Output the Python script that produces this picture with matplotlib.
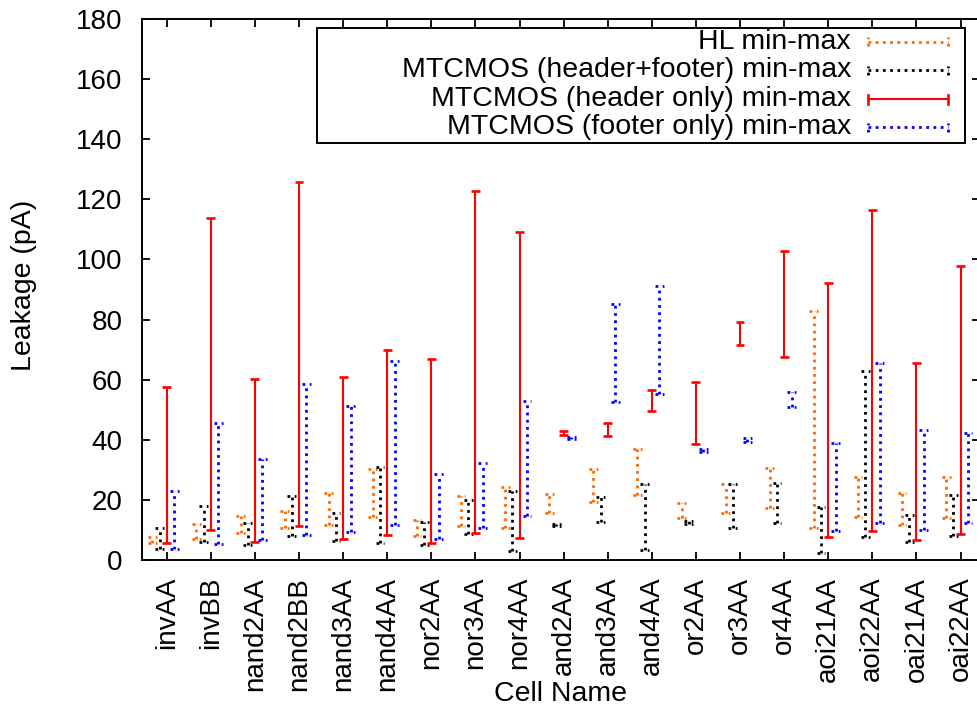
import matplotlib
matplotlib.use("Agg")
import matplotlib.pyplot as plt
import numpy as np

plt.rcParams["font.family"] = ["Liberation Sans", "DejaVu Sans"]

cells = ["invAA", "invBB", "nand2AA", "nand2BB", "nand3AA", "nand4AA",
         "nor2AA", "nor3AA", "nor4AA", "and2AA", "and3AA", "and4AA",
         "or2AA", "or3AA", "or4AA", "aoi21AA", "aoi22AA", "oai21AA", "oai22AA"]

# leakage ranges in pA (min / max)
hl_min = [5.5, 7.1, 9.1, 10.6, 11.5, 14.4, 8.0, 11.3, 10.5, 15.5, 19.4, 21.6,
          13.9, 15.8, 17.2, 10.5, 14.4, 11.6, 13.9]
hl_max = [7.8, 12.1, 14.6, 16.4, 22.4, 30.2, 13.3, 21.3, 24.4, 21.8, 30.2, 36.9,
          18.9, 25.2, 30.5, 82.9, 27.7, 22.2, 27.7]
hf_min = [3.6, 5.9, 5.1, 8.0, 6.2, 5.5, 5.1, 8.6, 3.0, 11.2, 12.8, 3.3,
          12.0, 10.5, 12.4, 2.4, 7.8, 6.1, 8.0]
hf_max = [10.7, 18.0, 12.4, 21.3, 15.5, 30.8, 12.5, 20.0, 23.0, 11.9, 20.9, 25.3,
          12.9, 25.3, 25.7, 17.7, 63.0, 15.0, 21.6]
hdr_min = [5.5, 10.0, 6.1, 11.4, 7.0, 8.3, 5.5, 8.9, 7.2, 41.5, 41.4, 49.7,
           38.5, 71.5, 67.4, 7.5, 9.6, 6.7, 8.6]
hdr_max = [57.5, 113.7, 60.2, 125.7, 61.0, 70.0, 66.8, 122.9, 109.1, 42.9, 45.5, 56.6,
           59.3, 79.3, 102.8, 92.3, 116.4, 65.7, 97.9]
ftr_min = [3.6, 5.3, 6.7, 8.2, 9.2, 11.6, 6.9, 10.5, 14.6, 40.3, 52.5, 55.2,
           36.0, 39.3, 51.0, 9.8, 12.2, 10.0, 12.2]
ftr_max = [23.0, 45.5, 33.5, 58.5, 51.2, 66.2, 28.6, 32.2, 53.0, 41.0, 85.2, 91.3,
           36.8, 40.6, 55.8, 38.8, 65.4, 43.2, 42.4]

labels = ["HL min-max", "MTCMOS (header+footer) min-max",
          "MTCMOS (header only) min-max", "MTCMOS (footer only) min-max"]

W, H = 977, 709
fig = plt.figure(figsize=(W / 100, H / 100), dpi=100)
# axes box in pixels: left spine 141, right spine just past the image edge
l, r, t, b = 141.5, 980.0, 19.0, 560.0
ax = fig.add_axes([l / W, 1 - b / H, (r - l) / W, (b - t) / H])

x = np.arange(len(cells))
dot = (0, (1, 1.6))
series = [
    (hl_min, hl_max, -0.325, "#ff6600", dot, 2.0),
    (hf_min, hf_max, -0.163, "black", dot, 2.0),
    (hdr_min, hdr_max, 0.0, "#ff0000", "-", 1.5),
    (ftr_min, ftr_max, 0.17, "#0000ff", dot, 2.0),
]
cap = 0.1
for lo, hi, off, col, ls, lw in series:
    xs = x + off
    ax.vlines(xs, lo, hi, colors=col, linestyles=ls, linewidth=lw)
    capw = lw + 0.4 if ls == "-" else lw
    ax.hlines(lo, xs - cap, xs + cap, colors=col, linestyles=ls, linewidth=capw)
    ax.hlines(hi, xs - cap, xs + cap, colors=col, linestyles=ls, linewidth=capw)

ax.set_xlim((l - 166.7) / 44.1, (r - 166.7) / 44.1)
ax.set_ylim(0, 180)
ax.set_yticks(np.arange(0, 181, 20))
ax.set_xticks(x)
ax.set_xticklabels(cells, rotation=90)
ax.tick_params(axis="both", direction="in", length=5.8, width=1.3,
               labelsize=20, top=True, right=True)
ax.tick_params(axis="x", pad=12)
ax.tick_params(axis="y", pad=13.5)
for s in ax.spines.values():
    s.set_linewidth(1.4)

fig.text(24 / W, 1 - 285 / H, "Leakage (pA)", rotation=90, fontsize=20.5,
         ha="center", va="center")
fig.text(561 / W, 1 - 694 / H, "Cell Name", fontsize=20.5,
         ha="center", va="center")

# legend box drawn in pixel coordinates
px = fig.transFigure
box = plt.Rectangle((317 / W, 1 - 143 / H), (965 - 317) / W, (143 - 28) / H,
                    transform=px, fill=False, linewidth=1.4, edgecolor="black",
                    zorder=5)
fig.add_artist(box)
rows = [41.7, 70.0, 99.0, 127.3]
x0, x1 = 868 / W, 948 / W
ch = 4.5 / H
for (lo, hi, off, col, ls, lw), lab, yr in zip(series, labels, rows):
    yy = 1 - yr / H
    fig.add_artist(plt.Line2D([x0, x1], [yy, yy], transform=px, color=col,
                              linestyle=ls, linewidth=lw))
    capw = lw + 0.4 if ls == "-" else lw
    for xe in (x0, x1):
        fig.add_artist(plt.Line2D([xe, xe], [yy - ch, yy + ch], transform=px,
                                  color=col, linestyle=ls, linewidth=capw))
    fig.text(851 / W, yy, lab, fontsize=20.5, ha="right", va="center")

fig.savefig("out.png", dpi=100)
